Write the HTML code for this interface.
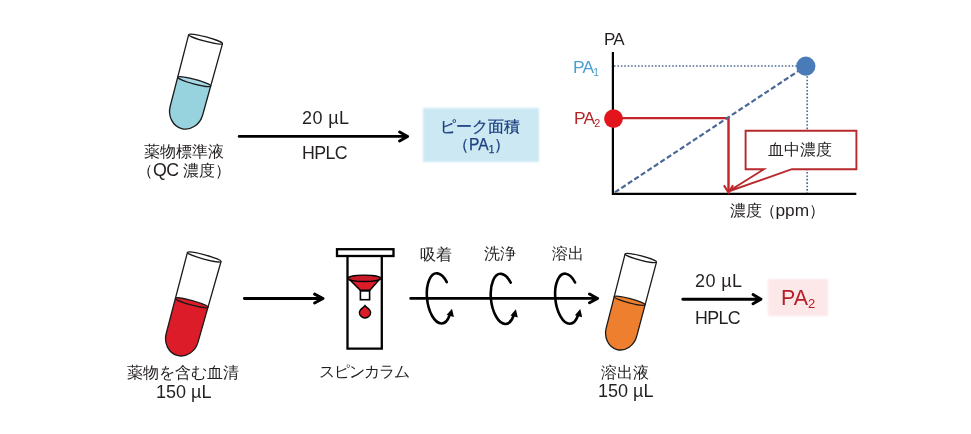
<!DOCTYPE html>
<html><head><meta charset="utf-8">
<style>
html,body{margin:0;padding:0;background:#fff;}
body{width:971px;height:434px;position:relative;overflow:hidden;font-family:"Liberation Sans",sans-serif;color:#231f20;}
.t{position:absolute;white-space:nowrap;font-size:16px;line-height:19px;will-change:transform;}
.L{font-size:18px;}
sub{vertical-align:baseline;position:relative;line-height:0;}
svg{position:absolute;left:0;top:0;}
.box{position:absolute;}
</style></head><body>
<div class="box" style="left:423px;top:107.5px;width:116px;height:54.5px;background:#cbe8f3;filter:blur(1.1px)"></div>
<div class="box" style="left:768px;top:278.5px;width:60px;height:37px;background:#fce7e9;filter:blur(1.1px)"></div>
<svg width="971" height="434" viewBox="0 0 971 434">
<!-- blue tube -->
<g transform="translate(205.6,39.1) rotate(15)" stroke="#1a1a1a" stroke-width="1.3" fill="none">
  <path d="M-17.08,44 L-16.8,73.8 A16.8,18.82 0 0 0 16.8,73.8 L17.08,44 Z" fill="#97d2df" stroke="none"/>
  <ellipse cx="0" cy="44" rx="17.08" ry="2.3" fill="#a6d9e5"/>
  <path d="M-17.5,0 L-16.8,73.8 A16.8,18.82 0 0 0 16.8,73.8 L17.5,0"/>
  <ellipse cx="0" cy="0" rx="17.5" ry="2.2" fill="#fff"/>
</g>
<!-- red tube -->
<g transform="translate(204.25,256.95) rotate(15.3)" stroke="#1a1a1a" stroke-width="1.3" fill="none">
  <path d="M-16.89,47.5 L-16.5,83.6 A16.5,18.48 0 0 0 16.5,83.6 L16.89,47.5 Z" fill="#dd1c2a" stroke="none"/>
  <ellipse cx="0" cy="47.5" rx="16.89" ry="2.2" fill="#dd1c2a"/>
  <path d="M-17.4,0 L-16.5,83.6 A16.5,18.48 0 0 0 16.5,83.6 L17.4,0"/>
  <ellipse cx="0" cy="0" rx="17.4" ry="2.2" fill="#fff"/>
</g>
<!-- orange tube -->
<g transform="translate(640.8,258) rotate(14.6)" stroke="#1a1a1a" stroke-width="1.3" fill="none">
  <path d="M-15.97,44.2 L-15.8,76.4 A15.8,18.17 0 0 0 15.8,76.4 L15.97,44.2 Z" fill="#ee7f2e" stroke="none"/>
  <ellipse cx="0" cy="44.2" rx="15.97" ry="2.2" fill="#ee7f2e"/>
  <path d="M-16.2,0 L-15.8,76.4 A15.8,18.17 0 0 0 15.8,76.4 L16.2,0"/>
  <ellipse cx="0" cy="0" rx="16.2" ry="2.2" fill="#fff"/>
</g>
<!-- arrows -->
<g stroke="#000" stroke-width="2.9" fill="none" stroke-linecap="round" stroke-linejoin="round">
  <path d="M239.2,136.4 H407.6 M399.6,131.9 L407.6,136.5 L399.6,141.1"/>
  <path d="M244.4,298.5 H323 M314.6,294.1 L323,298.5 L314.6,303.1"/>
  <path d="M410.7,298.4 H597.6 M589.5,294 L597.6,298.4 L589.5,302.8"/>
  <path d="M682.8,299.2 H761 M753,294.6 L761,299.2 L753,303.8"/>
</g>
<!-- spin column -->
<g stroke="#000" stroke-width="2.3" fill="none">
  <rect x="337" y="249.2" width="56.5" height="6.8" fill="#fff"/>
  <path d="M347.5,256 V348.7 H381.8 V256"/>
</g>
<g stroke="#000" stroke-width="1.4">
  <path d="M348.2,278.3 L360.3,290.2 H369.9 L380.5,278.3 Z" fill="#dd1c2a"/>
  <ellipse cx="364.3" cy="278.3" rx="16.3" ry="3.2" fill="#c81b27"/>
  <rect x="360.4" y="290.9" width="9.2" height="8.8" fill="#fff" stroke-width="1.6"/>
  <path d="M365,305.6 C366.5,307.8 370.6,309.3 370.6,312.4 A5.6,5.6 0 0 1 359.4,312.4 C359.4,309.3 363.5,307.8 365,305.6 Z" fill="#dd1c2a"/>
</g>
<!-- spin arrows -->
<g stroke="#000" stroke-width="2.6" fill="none" stroke-linecap="round">
<g transform="translate(439.20,298.60) rotate(-7)"><path d="M9.52,-15.35 A12,25.2 0 1 0 8.2,18.0"/></g>
<polygon points="452.00,308.70 446.60,315.00 453.90,316.90" fill="#000" stroke="none"/>
<g transform="translate(503.10,299.10) rotate(-7)"><path d="M9.52,-15.35 A12,25.2 0 1 0 8.2,18.0"/></g>
<polygon points="515.90,309.20 510.50,315.50 517.80,317.40" fill="#000" stroke="none"/>
<g transform="translate(567.50,298.90) rotate(-7)"><path d="M9.52,-15.35 A12,25.2 0 1 0 8.2,18.0"/></g>
<polygon points="580.30,309.00 574.90,315.30 582.20,317.20" fill="#000" stroke="none"/>
</g>
<!-- graph -->
<g fill="none">
  <path d="M807.2,66 V193" stroke="#4f6b95" stroke-width="1.7" stroke-dasharray="1.6,1.82"/>
  <path d="M614,66 H806" stroke="#4f6b95" stroke-width="1.7" stroke-dasharray="1.6,1.82"/>
  <path d="M612.9,52 V193.9 H856.3" stroke="#000" stroke-width="2.2"/>
  <path d="M613,118.1 H728.5 V192" stroke="#c3232a" stroke-width="2.4"/>
  <path d="M723.9,185.2 L728.5,192.6 L733.1,185.2" stroke="#c3232a" stroke-width="2.1"/>
  <path d="M613,193.6 L806,66" stroke="#4a6896" stroke-width="2.2" stroke-dasharray="5.2,2.6" stroke-dashoffset="5.6"/>
  <circle cx="805.8" cy="66.2" r="9.6" fill="#4a7bb9"/>
  <circle cx="613.5" cy="118.7" r="9.4" fill="#e2141c"/>
  <path d="M745.6,130.8 H856.4 V169.2 H791.9 L728.3,191.5 L763.9,169.2 H745.6 Z" fill="#fff" stroke="#b8292d" stroke-width="1.9"/>
</g>
</svg>
<div class="t" id="t1a" style="left:144.00px;top:141.80px;">薬物標準液</div>
<div class="t" id="t1b" style="left:136.60px;top:160.80px;">（<span class="L" style="font-size:17.8px;letter-spacing:-0.7px">QC</span> 濃度）</div>
<div class="t L" id="t2" style="left:301.50px;top:108.90px;letter-spacing:0.4px">20 µL</div>
<div class="t L" id="t3" style="left:302.10px;top:144.40px;font-size:17.8px;letter-spacing:-0.6px">HPLC</div>
<div class="t" id="t4a" style="left:440.10px;top:116.90px;color:#1d3f80;-webkit-text-stroke:0.25px #1d3f80">ピーク面積</div>
<div class="t" id="t4b" style="left:453.10px;top:134.60px;color:#1d3f80;-webkit-text-stroke:0.25px #1d3f80">（<span class="L" style="font-size:15.6px;letter-spacing:0px">PA<sub style="font-size:10px;top:3px">1</sub></span>）</div>
<div class="t L" id="t5" style="left:603.60px;top:29.90px;font-size:17px;letter-spacing:-0.8px">PA</div>
<div class="t L" id="t6" style="left:573.00px;top:58.40px;font-size:17.4px;letter-spacing:-0.8px;color:#4b9fcf">PA<sub style="font-size:10.3px;top:3px">1</sub></div>
<div class="t L" id="t7" style="left:574.00px;top:109.40px;font-size:17.4px;letter-spacing:-0.8px;color:#b42529">PA<sub style="font-size:10.8px;top:3px">2</sub></div>
<div class="t" id="t8" style="left:768.30px;top:140.20px;">血中濃度</div>
<div class="t" id="t9" style="left:729.50px;top:201.40px;">濃度<span style="margin-left:-2.5px">（</span><span class="L" style="font-size:17.3px;letter-spacing:0px">ppm</span>）</div>
<div class="t" id="t10" style="left:126.50px;top:363.00px;">薬物を含む血清</div>
<div class="t L" id="t11" style="left:155.80px;top:382.90px;">150 µL</div>
<div class="t" id="t12" style="left:318.50px;top:362.20px;letter-spacing:-1px">スピンカラム</div>
<div class="t" id="t13" style="left:420.30px;top:245.00px;">吸着</div>
<div class="t" id="t14" style="left:483.80px;top:244.00px;">洗浄</div>
<div class="t" id="t15" style="left:551.70px;top:244.00px;">溶出</div>
<div class="t" id="t16" style="left:601.30px;top:362.90px;">溶出液</div>
<div class="t L" id="t17" style="left:597.80px;top:382.40px;">150 µL</div>
<div class="t L" id="t18" style="left:695.10px;top:271.80px;letter-spacing:0.4px">20 µL</div>
<div class="t L" id="t19" style="left:695.40px;top:309.30px;font-size:17.8px;letter-spacing:-0.6px">HPLC</div>
<div class="t L" id="t20" style="left:781.30px;top:288.80px;font-size:21.4px;letter-spacing:0px;color:#b41e24">PA<sub style="font-size:13px;top:3px">2</sub></div>
</body></html>
